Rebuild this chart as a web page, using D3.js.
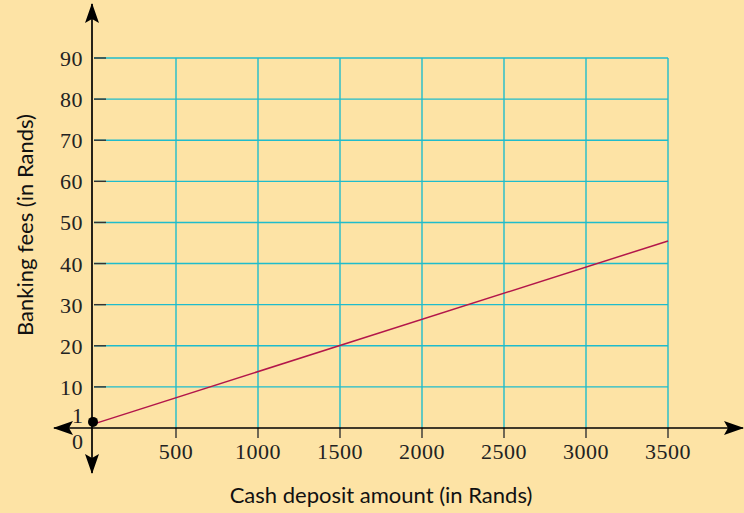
<!doctype html>
<html lang="en">
<head>
<meta charset="utf-8">
<title>Banking fees</title>
<script src="https://cdn.jsdelivr.net/npm/d3@7"></script>
<style>
  body { margin: 0; background: #fde3a5; }
  svg { display: block; }
</style>
</head>
<body>
<svg id="chart" width="744" height="513"></svg>
<script>
// data
var xTicks = [500, 1000, 1500, 2000, 2500, 3000, 3500];
var yTicks = [10, 20, 30, 40, 50, 60, 70, 80, 90];
var feeLine = [[0, 1], [3500, 45.5]];
var startPoint = [0, 1];

var svg = d3.select("#chart");
var W = 744, H = 513;

svg.append("rect").attr("width", W).attr("height", H).attr("fill", "#fde3a5");

var x = d3.scaleLinear().domain([0, 3500]).range([94, 668]);
var y = d3.scaleLinear().domain([0, 90]).range([428, 58]);

// grid
var grid = svg.append("g").attr("stroke", "#1fbccc").attr("stroke-width", 1.4);
grid.selectAll("line.h").data(yTicks).enter().append("line")
  .attr("x1", x(0)).attr("x2", x(3500))
  .attr("y1", function(d) { return y(d); }).attr("y2", function(d) { return y(d); });
grid.selectAll("line.v").data(xTicks).enter().append("line")
  .attr("x1", function(d) { return x(d); }).attr("x2", function(d) { return x(d); })
  .attr("y1", y(90)).attr("y2", y(0));

// axis tick marks (dark)
svg.append("g").selectAll("line").data(yTicks).enter().append("line")
  .attr("x1", x(0)).attr("x2", x(0) + 12)
  .attr("y1", function(d) { return y(d); }).attr("y2", function(d) { return y(d); })
  .attr("stroke", "#333").attr("stroke-width", 1.4);
svg.append("g").selectAll("line").data(xTicks).enter().append("line")
  .attr("x1", function(d) { return x(d); }).attr("x2", function(d) { return x(d); })
  .attr("y1", y(0)).attr("y2", y(0) + 10)
  .attr("stroke", "#333").attr("stroke-width", 1.4);

// axes with arrows
svg.append("defs").append("marker").attr("id", "arr")
  .attr("viewBox", "0 0 20 14").attr("refX", 19).attr("refY", 7)
  .attr("markerWidth", 20).attr("markerHeight", 14).attr("markerUnits", "userSpaceOnUse")
  .attr("orient", "auto-start-reverse")
  .append("path").attr("d", "M0,0 L20,7 L0,14 L4,7 Z").attr("fill", "#000");

svg.append("line").attr("x1", 54).attr("x2", 743).attr("y1", y(0)).attr("y2", y(0))
  .attr("stroke", "#000").attr("stroke-width", 1.7)
  .attr("marker-start", "url(#arr)").attr("marker-end", "url(#arr)");
svg.append("line").attr("x1", x(0) - 2).attr("x2", x(0) - 2).attr("y1", 4).attr("y2", 473)
  .attr("stroke", "#000").attr("stroke-width", 1.7)
  .attr("marker-start", "url(#arr)").attr("marker-end", "url(#arr)");

// fee line
svg.append("path")
  .attr("d", d3.line().x(function(d) { return x(d[0]); }).y(function(d) { return y(d[1]); })(feeLine))
  .attr("fill", "none").attr("stroke", "#b3164a").attr("stroke-width", 1.5);
svg.append("circle").attr("cx", x(startPoint[0]) - 1).attr("cy", y(startPoint[1]) - 2)
  .attr("r", 5).attr("fill", "#000");

// labels
var numFont = "'Liberation Serif', 'Times New Roman', serif";
var numSize = 22;
svg.append("g").selectAll("text").data(yTicks).enter().append("text")
  .attr("x", 83).attr("y", function(d) { return y(d) + 8; })
  .attr("text-anchor", "end").attr("font-family", numFont).attr("font-size", numSize)
  .attr("letter-spacing", 0.5).attr("fill", "#222").text(function(d) { return d; });
svg.append("text").attr("x", 83).attr("y", y(1) - 1).attr("text-anchor", "end")
  .attr("font-family", numFont).attr("font-size", numSize).attr("fill", "#222").text("1");
svg.append("text").attr("x", 83).attr("y", y(0) + 21).attr("text-anchor", "end")
  .attr("font-family", numFont).attr("font-size", numSize).attr("fill", "#222").text("0");
svg.append("g").selectAll("text").data(xTicks).enter().append("text")
  .attr("x", function(d) { return x(d); }).attr("y", 459)
  .attr("text-anchor", "middle").attr("font-family", numFont).attr("font-size", numSize)
  .attr("letter-spacing", 0.5).attr("fill", "#222").text(function(d) { return d; });

var titleFont = "Lato, 'Open Sans', sans-serif";
svg.append("text").attr("x", 381).attr("y", 503).attr("text-anchor", "middle")
  .attr("font-family", titleFont).attr("font-size", 22).attr("fill", "#111")
  .text("Cash deposit amount (in Rands)");
svg.append("text").attr("transform", "translate(33,225) rotate(-90)").attr("text-anchor", "middle")
  .attr("font-family", titleFont).attr("font-size", 22).attr("fill", "#111")
  .text("Banking fees (in Rands)");
</script>
</body>
</html>
